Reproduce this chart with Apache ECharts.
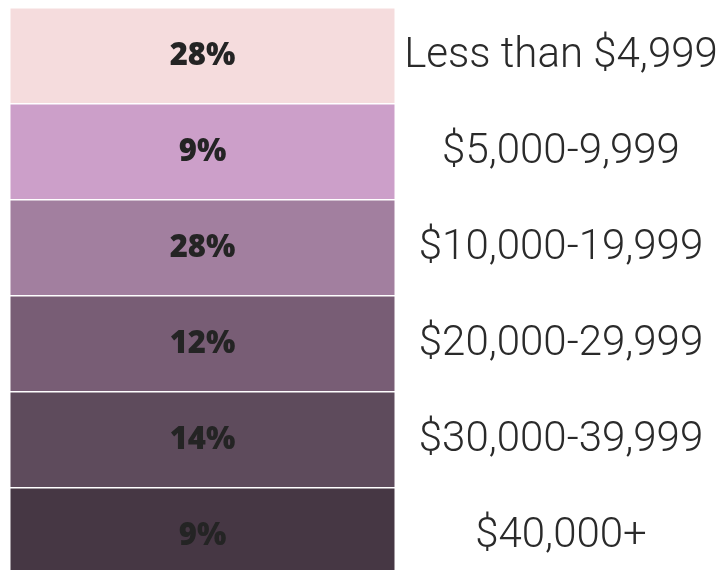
<!DOCTYPE html>
<html>
<head>
<meta charset="utf-8">
<script src="https://cdn.jsdelivr.net/npm/echarts@6/dist/echarts.min.js"></script>
<style>
  html, body { margin: 0; padding: 0; background: #fff; }
</style>
</head>
<body>
<!-- chart container, same size as the window -->
<div id="main" style="width: 717px;height:570px;"></div>
<script>
  // income brackets, top to bottom
  var brackets = ['Less than $4,999', '$5,000-9,999', '$10,000-19,999', '$20,000-29,999', '$30,000-39,999', '$40,000+'];
  // share of households in each bracket (%)
  var shares = [28, 9, 28, 12, 14, 9];

  var palette = ['#f5dcdd', '#cc9fc9', '#a27f9f', '#785d75', '#5e4b5c', '#463744'];

  var cells = shares.map(function (v, i) { return [0, i, v]; });

  var myChart = echarts.init(document.getElementById('main'));
  myChart.setOption({
    animation: false,
    // bottom row runs past the window edge, as in the picture
    grid: { left: 10, right: 322, top: 8, height: 576, outerBoundsMode: 'none' },
    xAxis: { type: 'category', data: ['share'], show: false },
    yAxis: {
      type: 'category',
      data: brackets,
      inverse: true,
      position: 'right',
      axisLine: { show: false },
      axisTick: { show: false },
      splitLine: { show: false },
      axisLabel: {
        align: 'center',
        margin: 166,
        fontSize: 42,
        fontWeight: 300,
        fontFamily: 'Roboto',
        color: '#2a2a2a'
      }
    },
    visualMap: {
      show: false,
      type: 'piecewise',
      dimension: 1,
      pieces: palette.map(function (c, i) { return { value: i, color: c }; })
    },
    series: [{
      type: 'heatmap',
      data: cells,
      itemStyle: { borderColor: '#ffffff', borderWidth: 1.5 },
      label: {
        show: true,
        formatter: function (p) { return p.value[2] + '%'; },
        fontSize: 31,
        fontWeight: 800,
        fontFamily: 'Open Sans',
        color: '#242424'
      },
      emphasis: { disabled: true }
    }]
  });
</script>
</body>
</html>
